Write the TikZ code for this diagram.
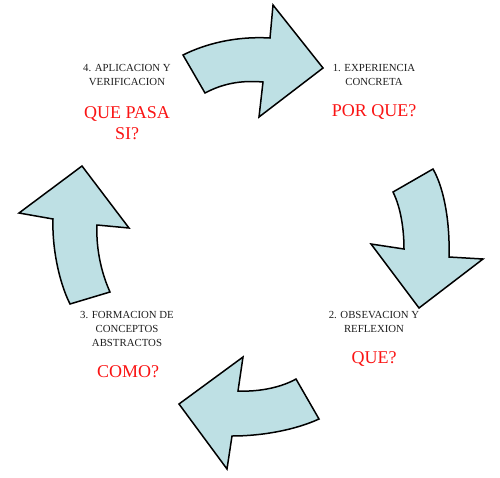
\documentclass[tikz,border=0pt]{standalone}
\usepackage{fontspec}
\setmainfont{Liberation Serif}
\definecolor{arrowfill}{RGB}{190,224,228}
\definecolor{qred}{RGB}{250,20,20}
\definecolor{ltext}{RGB}{30,30,30}
\tikzset{
  cyclearrow/.style={draw=black, line width=1.5pt, fill=arrowfill, line join=miter},
  steplabel/.style={align=center, font=\fontsize{10.8}{13.8}\selectfont, text=ltext, inner sep=0pt},
  question/.style={align=center, font=\fontsize{18}{21}\selectfont, text=qred, inner sep=0pt}
}
\begin{document}
\begin{tikzpicture}[x=1pt,y=-1pt]
\useasboundingbox (0,0) rectangle (500,477);
% top arrow
\draw[cyclearrow] (183,55) .. controls (205,44) and (235,36) .. (270,38)
  -- (273,5) -- (323,68) -- (259,117) -- (263,82)
  .. controls (240,80) and (222,84) .. (205,93) -- cycle;
% right arrow
\draw[cyclearrow] (433,169) .. controls (445,190) and (450,225) .. (449,257)
  -- (483,259) -- (419,308) -- (371,244) -- (404,249)
  .. controls (404,230) and (401,208) .. (393,192) -- cycle;
% bottom arrow
\draw[cyclearrow] (319,419) .. controls (295,430) and (262,436) .. (232,436)
  -- (227,469) -- (179,404) -- (243,357) -- (238,391)
  .. controls (260,392) and (282,387) .. (296,379) -- cycle;
% left arrow
\draw[cyclearrow] (70,304) .. controls (58,280) and (52,245) .. (53,219)
  -- (19,213) -- (82,166) -- (129,228) -- (97,225)
  .. controls (96,245) and (100,270) .. (110,292) -- cycle;
% labels
\node[steplabel] (l4) at (127,75) {4. APLICACION Y\\VERIFICACION};
\node[question] (q4) at (127,123) {QUE PASA\\SI?};
\node[steplabel] (l1) at (374,75) {1. EXPERIENCIA\\CONCRETA};
\node[question] (q1) at (374,112) {POR QUE?};
\node[steplabel] (l2) at (374,322) {2. OBSEVACION Y\\REFLEXION};
\node[question] (q2) at (374,359) {QUE?};
\node[steplabel] (l3) at (127,329) {3. FORMACION DE\\CONCEPTOS\\ABSTRACTOS};
\node[question] (q3) at (128,372) {COMO?};
\end{tikzpicture}
\end{document}
